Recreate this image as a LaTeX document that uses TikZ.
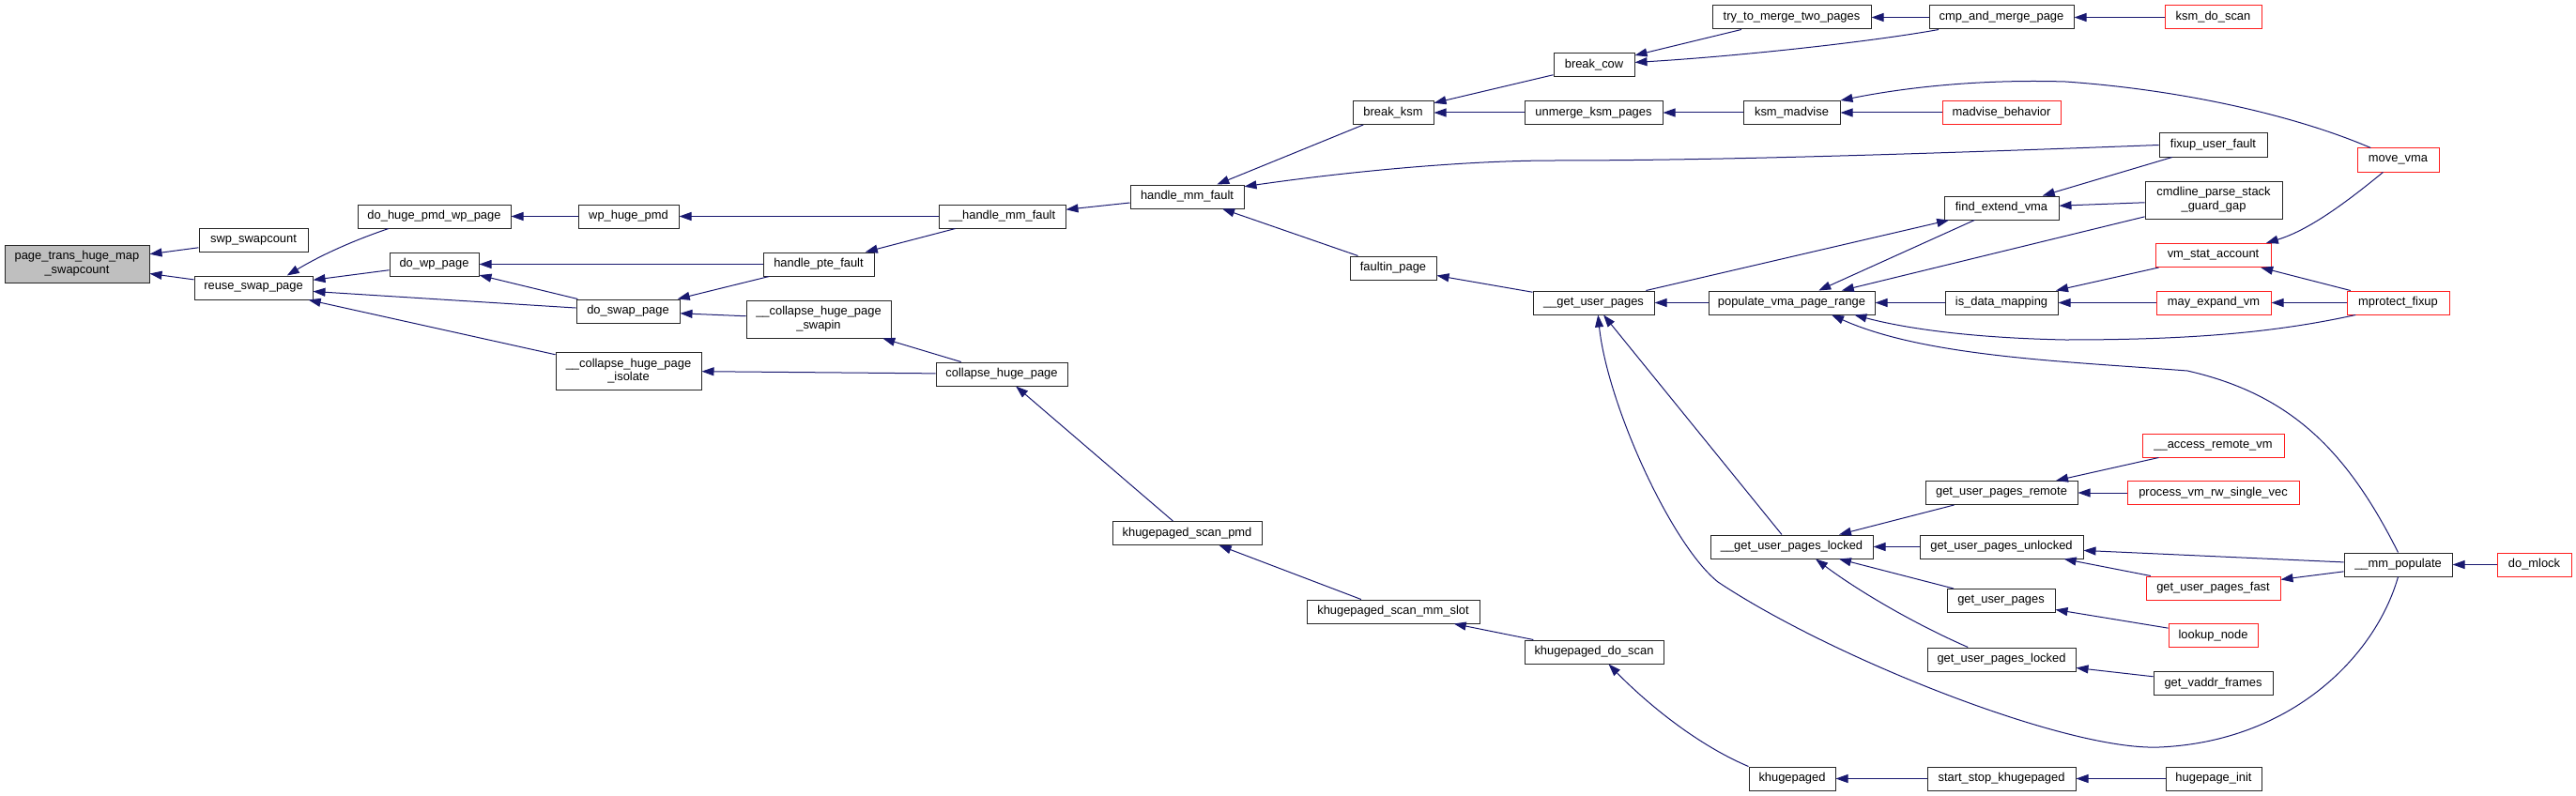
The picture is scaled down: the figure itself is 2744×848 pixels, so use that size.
\documentclass[tikz,border=0pt]{standalone}
\usepackage{fontspec}
\newfontfamily\doxfont{Liberation Sans}
\usetikzlibrary{arrows.meta}
\definecolor{edgeblue}{RGB}{25,25,112}
\definecolor{rootgray}{RGB}{191,191,191}
\definecolor{boxred}{RGB}{255,30,30}
\tikzset{
  fn/.style={draw=black!85, line width=1pt, fill=white, minimum height=25pt,
    inner sep=0pt, align=center, font=\doxfont\fontsize{12.9}{14.7}\selectfont},
  fnred/.style={fn, draw=boxred},
  call/.style={draw=edgeblue, line width=1pt, -{Triangle[length=13pt,width=9pt]}}
}

\begin{document}
\begin{tikzpicture}[x=1pt, y=-1pt]
  \useasboundingbox (0,0) rectangle (2744,848);

  % functions
  \node[fn, fill=rootgray, minimum width=154pt, minimum height=40pt] (root) at (82,281) {page\_trans\_huge\_map\\\_swapcount};
  \node[fn, minimum width=116pt] (swp) at (270,256) {swp\_swapcount};
  \node[fn, minimum width=126pt] (reuse) at (270,306.5) {reuse\_swap\_page};
  \node[fn, minimum width=163pt] (dhpwp) at (462.5,230.5) {do\_huge\_pmd\_wp\_page};
  \node[fn, minimum width=95pt] (dowp) at (462.5,281.5) {do\_wp\_page};
  \node[fn, minimum width=107pt] (wphp) at (669.5,230.5) {wp\_huge\_pmd};
  \node[fn, minimum width=110pt] (doswap) at (669,331.5) {do\_swap\_page};
  \node[fn, minimum width=155pt, minimum height=40pt] (chpiso) at (669.5,395) {\_\_collapse\_huge\_page\\\_isolate};
  \node[fn, minimum width=118pt] (hpte) at (872,281.5) {handle\_pte\_fault};
  \node[fn, minimum width=154pt, minimum height=40pt] (chpswap) at (872,340) {\_\_collapse\_huge\_page\\\_swapin};
  \node[fn, minimum width=135pt] (hmmf2) at (1067.5,230.5) {\_\_handle\_mm\_fault};
  \node[fn, minimum width=140pt] (chp) at (1067,398.5) {collapse\_huge\_page};
  \node[fn, minimum width=121pt] (hmmf) at (1264.5,209.5) {handle\_mm\_fault};
  \node[fn, minimum width=159pt] (kspmd) at (1264.5,568) {khugepaged\_scan\_pmd};
  \node[fn, minimum width=86pt] (bksm) at (1484,120) {break\_ksm};
  \node[fn, minimum width=92pt] (faultin) at (1484,285.5) {faultin\_page};
  \node[fn, minimum width=184pt] (ksmslot) at (1484,651.5) {khugepaged\_scan\_mm\_slot};
  \node[fn, minimum width=86pt] (bcow) at (1698,69.5) {break\_cow};
  \node[fn, minimum width=147pt] (unmerge) at (1697.5,120) {unmerge\_ksm\_pages};
  \node[fn, minimum width=129pt] (gup2) at (1697.5,322.5) {\_\_get\_user\_pages};
  \node[fn, minimum width=148pt] (kdoscan) at (1698,694.5) {khugepaged\_do\_scan};
  \node[fn, minimum width=169pt] (ttm) at (1908.5,18.5) {try\_to\_merge\_two\_pages};
  \node[fn, minimum width=103pt] (ksmmad) at (1908.5,120) {ksm\_madvise};
  \node[fn, minimum width=177pt] (pvpr) at (1908.5,322.5) {populate\_vma\_page\_range};
  \node[fn, minimum width=173pt] (gupl2) at (1908.5,582.5) {\_\_get\_user\_pages\_locked};
  \node[fn, minimum width=92pt] (khp) at (1909,829.5) {khugepaged};
  \node[fn, minimum width=154pt] (cmp) at (2132,18.5) {cmp\_and\_merge\_page};
  \node[fnred, minimum width=126pt] (madv) at (2132,120) {madvise\_behavior};
  \node[fn, minimum width=122pt] (fev) at (2132,221.5) {find\_extend\_vma};
  \node[fn, minimum width=120pt] (idm) at (2132,322.5) {is\_data\_mapping};
  \node[fn, minimum width=162pt] (gupr) at (2132,525) {get\_user\_pages\_remote};
  \node[fn, minimum width=174pt] (gupu) at (2132,582.5) {get\_user\_pages\_unlocked};
  \node[fn, minimum width=115pt] (gup) at (2131.5,640) {get\_user\_pages};
  \node[fn, minimum width=158pt] (gupl) at (2132,702.5) {get\_user\_pages\_locked};
  \node[fn, minimum width=158pt] (sskhp) at (2132,829.5) {start\_stop\_khugepaged};
  \node[fnred, minimum width=103pt] (ksmscan) at (2357.5,18.5) {ksm\_do\_scan};
  \node[fn, minimum width=115pt] (fuf) at (2357.5,154.5) {fixup\_user\_fault};
  \node[fn, minimum width=146pt, minimum height=40pt] (cpsgg) at (2358,213) {cmdline\_parse\_stack\\\_guard\_gap};
  \node[fnred, minimum width=123pt] (vsa) at (2357.5,272) {vm\_stat\_account};
  \node[fnred, minimum width=122pt] (mev) at (2358,322.5) {may\_expand\_vm};
  \node[fnred, minimum width=151pt] (arv) at (2357.5,474.5) {\_\_access\_remote\_vm};
  \node[fnred, minimum width=183pt] (pvrsv) at (2357.5,525) {process\_vm\_rw\_single\_vec};
  \node[fnred, minimum width=143pt] (gupf) at (2357.5,626.5) {get\_user\_pages\_fast};
  \node[fnred, minimum width=95pt] (lookup) at (2357.5,677) {lookup\_node};
  \node[fn, minimum width=127pt] (gvf) at (2357.5,728) {get\_vaddr\_frames};
  \node[fn, minimum width=102pt] (hpinit) at (2358,829.5) {hugepage\_init};
  \node[fnred, minimum width=87pt] (movevma) at (2554.5,170.5) {move\_vma};
  \node[fnred, minimum width=109pt] (mprot) at (2554.5,322.5) {mprotect\_fixup};
  \node[fn, minimum width=115pt] (mmpop) at (2554.5,601.5) {\_\_mm\_populate};
  \node[fnred, minimum width=79pt] (mlock) at (2699.5,601.5) {do\_mlock};

  % callers -> callees
  \draw[call] (swp) -- (root);
  \draw[call] (reuse) -- (root);
  \draw[call] (dhpwp.195) .. controls (380,255) and (345,270) .. (reuse.20);
  \draw[call] (dowp) -- (reuse);
  \draw[call] (doswap) -- (reuse);
  \draw[call] (chpiso) -- (reuse);
  \draw[call] (wphp) -- (dhpwp);
  \draw[call] (hmmf2) -- (wphp);
  \draw[call] (hpte) -- (dowp);
  \draw[call] (doswap) -- (dowp);
  \draw[call] (hpte) -- (doswap);
  \draw[call] (chpswap) -- (doswap);
  \draw[call] (chp) -- (chpiso);
  \draw[call] (chp) -- (chpswap);
  \draw[call] (hmmf2) -- (hpte);
  \draw[call] (hmmf) -- (hmmf2);
  \draw[call] (kspmd) -- (chp);
  \draw[call] (bksm) -- (hmmf);
  \draw[call] (fuf.west) .. controls (2100,162) and (1850,171) .. (1656,171)
    .. controls (1550,171) and (1420,185) .. (hmmf.10);
  \draw[call] (faultin) -- (hmmf);
  \draw[call] (bcow) -- (bksm);
  \draw[call] (unmerge) -- (bksm);
  \draw[call] (ttm) -- (bcow);
  \draw[call] (cmp.191) .. controls (1990,45) and (1850,60) .. (bcow.4);
  \draw[call] (cmp) -- (ttm);
  \draw[call] (ksmscan) -- (cmp);
  \draw[call] (ksmmad) -- (unmerge);
  \draw[call] (madv) -- (ksmmad);
  \draw[call] (movevma.156) .. controls (2450,125) and (2330,96) .. (2200,87)
    .. controls (2100,84) and (2020,95) .. (ksmmad.north east);
  \draw[call] (gup2) -- (faultin);
  \draw[call] (pvpr) -- (gup2);
  \draw[call] (gup2) -- (fev);
  \draw[call] (fev) -- (pvpr);
  \draw[call] (fuf) -- (fev);
  \draw[call] (cpsgg) -- (fev);
  \draw[call] (cpsgg) -- (pvpr);
  \draw[call] (idm) -- (pvpr);
  \draw[call] (vsa) -- (idm);
  \draw[call] (mev) -- (idm);
  \draw[call] (mprot.196) .. controls (2420,355) and (2330,362) .. (2200,362)
    .. controls (2100,360) and (2030,350) .. (pvpr.-11);
  \draw[call] (mmpop.north) .. controls (2500,480) and (2440,420) .. (2330,395)
    .. controls (2200,385) and (2050,380) .. (pvpr.-17);
  \draw[call] (movevma.-141) .. controls (2500,215) and (2460,245) .. (vsa.13);
  \draw[call] (mprot) -- (vsa);
  \draw[call] (mprot) -- (mev);
  \draw[call] (gupl2) -- (gup2);
  \draw[call] (mmpop.south) .. controls (2530,700) and (2440,790) .. (2300,796)
    .. controls (2200,800) and (1950,700) .. (1830,620)
    .. controls (1780,580) and (1712,430) .. (gup2.-70);
  \draw[call] (gupr) -- (gupl2);
  \draw[call] (gupu) -- (gupl2);
  \draw[call] (gup) -- (gupl2);
  \draw[call] (gupl.160) .. controls (2040,665) and (1980,630) .. (gupl2.-27);
  \draw[call] (arv) -- (gupr);
  \draw[call] (pvrsv) -- (gupr);
  \draw[call] (mmpop) -- (gupu);
  \draw[call] (gupf) -- (gupu);
  \draw[call] (mmpop) -- (gupf);
  \draw[call] (lookup) -- (gup);
  \draw[call] (gvf) -- (gupl);
  \draw[call] (mlock) -- (mmpop);
  \draw[call] (ksmslot) -- (kspmd);
  \draw[call] (kdoscan) -- (ksmslot);
  \draw[call] (khp.north west) .. controls (1800,790) and (1745,740) .. (kdoscan.-40);
  \draw[call] (sskhp) -- (khp);
  \draw[call] (hpinit) -- (sskhp);
\end{tikzpicture}
\end{document}
